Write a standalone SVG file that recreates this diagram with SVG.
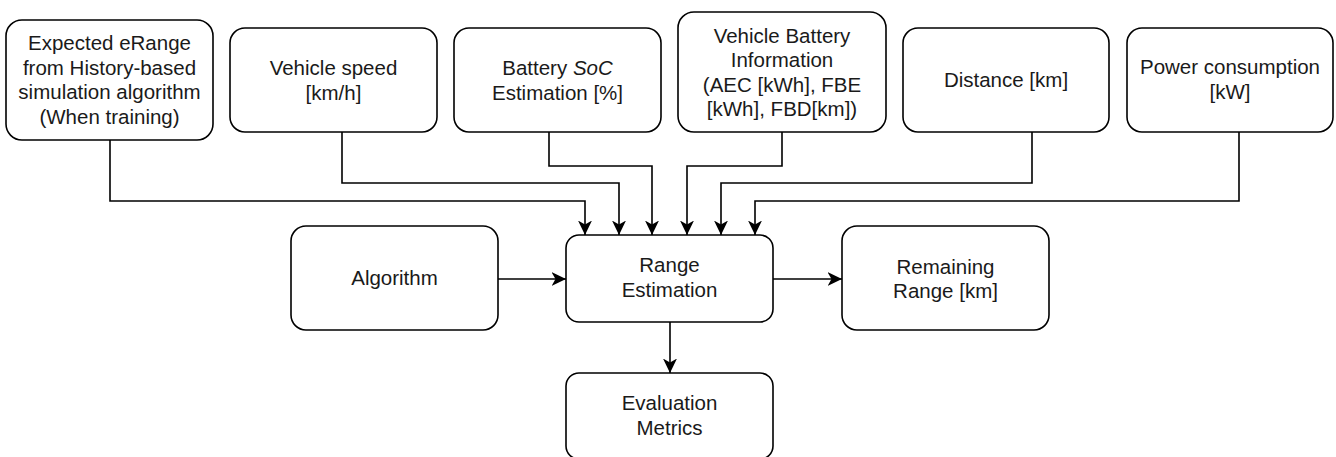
<svg xmlns="http://www.w3.org/2000/svg" width="1336" height="457" viewBox="0 0 1336 457">
  <style>
    .box { fill: #ffffff; stroke: #000000; stroke-width: 1.6; }
    .lbl { font-family: "Liberation Sans", Arial, sans-serif; font-size: 20.5px; fill: #1a1a1a; text-anchor: middle; }
    .edge { fill: none; stroke: #000000; stroke-width: 1.6; stroke-linejoin: miter; }
  </style>
  <defs>
    <marker id="arrow" markerUnits="userSpaceOnUse" markerWidth="15" markerHeight="14" viewBox="0 0 15 14" refX="14.5" refY="7" orient="auto">
      <path d="M14.5,7 L0,0 L4,7 L0,14 Z" fill="#000000"/>
    </marker>
  </defs>
  <rect width="1336" height="457" fill="#ffffff"/>

  <!-- connectors -->
  <g id="connectors">
    <path class="edge" d="M110,140 V201 H585 V235" marker-end="url(#arrow)"/>
    <path class="edge" d="M342,132 V183 H619 V235" marker-end="url(#arrow)"/>
    <path class="edge" d="M549,132 V166 H652 V235" marker-end="url(#arrow)"/>
    <path class="edge" d="M782,132 V166 H687 V235" marker-end="url(#arrow)"/>
    <path class="edge" d="M1032,132 V183 H721 V235" marker-end="url(#arrow)"/>
    <path class="edge" d="M1239,132 V201 H755 V235" marker-end="url(#arrow)"/>
    <path class="edge" d="M498,279 H566" marker-end="url(#arrow)"/>
    <path class="edge" d="M773,279 H842" marker-end="url(#arrow)"/>
    <path class="edge" d="M670,322 V373" marker-end="url(#arrow)"/>
  </g>

  <!-- input nodes -->
  <g id="expected-erange">
    <rect class="box" x="6" y="20" width="207" height="120" rx="16" ry="16"/>
    <text class="lbl" x="109.5" y="50">Expected eRange</text>
    <text class="lbl" x="109.5" y="74.5">from History-based</text>
    <text class="lbl" x="109.5" y="99">simulation algorithm</text>
    <text class="lbl" x="109.5" y="123.5">(When training)</text>
  </g>
  <g id="vehicle-speed">
    <rect class="box" x="230" y="28" width="207" height="104" rx="15" ry="15"/>
    <text class="lbl" x="333.5" y="75">Vehicle speed</text>
    <text class="lbl" x="333.5" y="99.5">[km/h]</text>
  </g>
  <g id="battery-soc">
    <rect class="box" x="454" y="28" width="207" height="104" rx="15" ry="15"/>
    <text class="lbl" x="557.5" y="75">Battery <tspan font-style="italic">SoC</tspan></text>
    <text class="lbl" x="557.5" y="99.5">Estimation [%]</text>
  </g>
  <g id="battery-info">
    <rect class="box" x="678" y="12" width="208" height="120" rx="16" ry="16"/>
    <text class="lbl" x="782" y="42.5">Vehicle Battery</text>
    <text class="lbl" x="782" y="67">Information</text>
    <text class="lbl" x="782" y="91.5">(AEC [kWh], FBE</text>
    <text class="lbl" x="782" y="116">[kWh], FBD[km])</text>
  </g>
  <g id="distance">
    <rect class="box" x="903" y="28" width="206" height="104" rx="15" ry="15"/>
    <text class="lbl" x="1006" y="87">Distance [km]</text>
  </g>
  <g id="power-consumption">
    <rect class="box" x="1127" y="28" width="206" height="104" rx="15" ry="15"/>
    <text class="lbl" x="1230" y="74">Power consumption</text>
    <text class="lbl" x="1230" y="98.5">[kW]</text>
  </g>

  <!-- middle row -->
  <g id="algorithm">
    <rect class="box" x="291" y="226" width="207" height="104" rx="15" ry="15"/>
    <text class="lbl" x="394.5" y="285">Algorithm</text>
  </g>
  <g id="range-estimation">
    <rect class="box" x="566" y="235" width="207" height="87" rx="13" ry="13"/>
    <text class="lbl" x="669.5" y="272">Range</text>
    <text class="lbl" x="669.5" y="296.5">Estimation</text>
  </g>
  <g id="remaining-range">
    <rect class="box" x="842" y="226" width="207" height="104" rx="15" ry="15"/>
    <text class="lbl" x="945.5" y="273.5">Remaining</text>
    <text class="lbl" x="945.5" y="298">Range [km]</text>
  </g>

  <!-- output -->
  <g id="evaluation-metrics">
    <rect class="box" x="566" y="373" width="207" height="86" rx="13" ry="13"/>
    <text class="lbl" x="669.5" y="410">Evaluation</text>
    <text class="lbl" x="669.5" y="434.5">Metrics</text>
  </g>
</svg>
